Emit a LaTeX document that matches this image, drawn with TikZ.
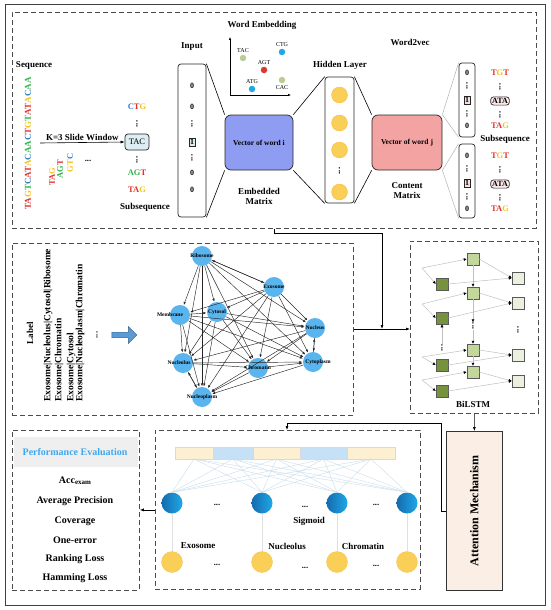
\documentclass[tikz,border=0pt]{standalone}
\usepackage{fontspec}
\setmainfont{Liberation Serif}
\usepackage{xcolor}
\definecolor{SeqRed}{HTML}{E0302B}
\definecolor{SeqGreen}{HTML}{2FB24A}
\definecolor{SeqGold}{HTML}{F2C318}
\definecolor{SeqBlue}{HTML}{2F7FC8}
\definecolor{TacFill}{HTML}{DCEEF4}
\definecolor{EmbFill}{HTML}{8E9CF2}
\definecolor{CtxFill}{HTML}{F4A3A3}
\definecolor{HidGold}{HTML}{F9CF57}
\definecolor{PtGreen}{HTML}{B9CC92}
\definecolor{PtBlue}{HTML}{1EA8E8}
\definecolor{PtRed}{HTML}{D83A32}
\definecolor{NodeBlue}{HTML}{5AB4EE}
\definecolor{ArrBlue}{HTML}{5B9BD5}
\definecolor{LstmDark}{HTML}{76923C}
\definecolor{LstmMid}{HTML}{C3D69B}
\definecolor{LstmLight}{HTML}{EBF1DE}
\definecolor{BarCream}{HTML}{FCEFD2}
\definecolor{BarBlue}{HTML}{C6E1F5}
\definecolor{SigBlue}{HTML}{1C86D8}
\definecolor{FanBlue}{HTML}{C9DDEB}
\definecolor{AttFill}{HTML}{FBEEE5}
\definecolor{HeadGray}{HTML}{EFEFEF}
\definecolor{PerfBlue}{HTML}{3DA8F0}
\usepackage{tikz}
\usetikzlibrary{positioning,calc,arrows.meta,shapes.arrows}
\tikzset{
  panel/.style={draw=black!70,line width=0.8pt,dash pattern=on 5pt off 3pt,inner sep=0pt},
  ttl/.style={font=\bfseries\fontsize{9}{10}\selectfont,inner sep=1pt},
  num/.style={font=\bfseries\fontsize{8}{9}\selectfont,inner sep=0pt},
  vd/.style={rotate=90,inner sep=0pt,font=\bfseries\fontsize{9}{9}\selectfont},
  word/.style={font=\bfseries\fontsize{8.5}{9}\selectfont,inner sep=1pt},
  vec/.style={draw=black!85,rounded corners=3pt,line width=0.7pt},
  mat/.style={vec,rounded corners=6pt,font=\bfseries\fontsize{7.5}{9}\selectfont},
  hot/.style={draw=black!85,inner sep=1.2pt,font=\bfseries\fontsize{8}{9}\selectfont},
  link/.style={draw=black,line width=0.6pt},
  glink/.style={draw=black!30,line width=0.5pt},
  flow/.style={-{Latex[length=4pt,width=3pt]},draw=black,line width=0.6pt},
  hcirc/.style={circle,fill=HidGold,draw=HidGold!70!orange,line width=0.3pt,minimum size=16pt,inner sep=0pt},
  edot/.style={circle,minimum size=6.5pt,inner sep=0pt},
  elbl/.style={font=\fontsize{6}{7}\selectfont,inner sep=0pt},
  gnode/.style={circle,fill=NodeBlue,minimum size=20pt,inner sep=0pt},
  glbl/.style={font=\bfseries\fontsize{5.5}{6}\selectfont,inner sep=0pt},
  gedge/.style={-{Latex[length=3pt,width=2.4pt]},line width=0.45pt,draw=black!85,shorten >=0.5pt},
  cell/.style={draw=black!65,minimum size=12pt,inner sep=0pt,line width=0.5pt},
  lstm/.style={-{Latex[length=3pt,width=3pt,color=black]},draw=black!25,line width=0.5pt},
  sigc/.style={circle,minimum size=21pt,inner sep=0pt,left color=SigBlue!80!black,right color=PtBlue},
  outc/.style={circle,minimum size=21pt,inner sep=0pt,fill=HidGold,draw=HidGold!80!orange,line width=0.3pt},
  fan/.style={draw=FanBlue,line width=0.4pt},
  vline/.style={draw=black!12,line width=0.4pt},
  metric/.style={font=\bfseries\fontsize{10}{11}\selectfont,inner sep=1pt},
}
\newcommand{\ntR}[1]{\textcolor{SeqRed}{#1}}
\newcommand{\ntG}[1]{\textcolor{SeqGreen}{#1}}
\newcommand{\ntY}[1]{\textcolor{SeqGold}{#1}}
\newcommand{\ntB}[1]{\textcolor{SeqBlue}{#1}}

\begin{document}
\begin{tikzpicture}[x=1pt,y=-1pt]
\useasboundingbox (0,0) rectangle (550,610);
\draw[black!75,line width=0.9pt] (5,4) rectangle (545,605);

% panels
\node[panel,minimum width=524pt,minimum height=216pt,anchor=north west] (top) at (12,12) {};
\node[panel,minimum width=341pt,minimum height=172pt,anchor=north west] (mid) at (12,243) {};
\node[panel,minimum width=128pt,minimum height=172pt,anchor=north west] (lstm) at (410,241) {};
\node[panel,minimum width=127pt,minimum height=160pt,anchor=north west] (perf) at (12,430) {};
\node[panel,minimum width=265pt,minimum height=159pt,anchor=north west] (sig) at (155,430) {};
\node[draw=black!80,fill=AttFill,line width=0.7pt,minimum width=56pt,minimum height=159pt,anchor=north west] (att) at (446,431) {};
\node[rotate=90,font=\bfseries\fontsize{12}{13}\selectfont] at (att) {Attention Mechanism};

% sequence and slide window
\node[ttl] (seqt) at (34,65) {Sequence};
\node[rotate=90,font=\bfseries\fontsize{9}{10}\selectfont,inner sep=0pt] (seq) at (28,143.5)
  {\ntR{TA}\ntY{G}\ntG{T}\ntB{C}\ntR{AT}\ntY{A}\ntB{C}\ntG{AA}\ntB{C}\ntR{T}\ntY{G}\ntG{T}\ntR{AT}\ntY{A}\ntB{C}\ntG{AA}};
\node[rotate=90,word] (w1) at (52,177) {\ntR{TA}\ntY{G}};
\node[rotate=90,word] (w2) at (60,169) {\ntG{AG}\ntR{T}};
\node[rotate=90,word] (w3) at (70,163) {\ntY{GT}\ntB{C}};
\node[word] at (88,161) {...};
\node[draw=black!85,fill=TacFill,rounded corners=3pt,line width=0.7pt,minimum width=24pt,minimum height=16pt,
  inner sep=1pt,font=\fontsize{8.5}{9}\selectfont] (tac) at (137,142) {TAC};
\coordinate (win) at (40,143);
\draw[flow] (win) -- node[ttl,above=1pt] {K=3 Slide Window} (tac.west);
\node[word] (ctg) at (137,107) {\ntB{C}\ntR{T}\ntY{G}};
\node[vd] at (137,124) {...};
\node[vd] at (137,160) {...};
\node[word] (agt) at (137,173) {\ntG{AG}\ntR{T}};
\node[word] (tag) at (137,190) {\ntR{TA}\ntY{G}};
\node[ttl] at (145,207) {Subsequence};

% input one-hot
\node[vec,minimum width=28pt,minimum height=153pt] (inp) at (192,140.5) {};
\node[ttl] at (192,47) {Input};
\foreach \y in {86,107,173,190}
  \node[num] at (192,\y) {0};
\foreach \y in {124,158}
  \node[vd] at (192,\y) {...};
\node[hot,fill=TacFill] at (192,142) {1};

% word embedding
\node[ttl] at (262,25) {Word Embedding};
\coordinate (org) at (230,95);
\draw[-{Latex[length=3pt,width=2.5pt]},line width=0.5pt] (org) -- (230,37);
\draw[-{Latex[length=3pt,width=2.5pt]},line width=0.5pt] (org) -- (291,95);
\node[edot,fill=PtGreen] (pTAC) at (243,58) {};
\node[edot,fill=PtBlue] (pCTG) at (282,52) {};
\node[edot,fill=PtRed] (pAGT) at (264,70) {};
\node[edot,fill=PtBlue] (pATG) at (252,89) {};
\node[edot,fill=PtGreen] (pCAC) at (282,80) {};
\node[elbl,above=1.5pt of pTAC] {TAC};
\node[elbl,above=1.5pt of pCTG] {CTG};
\node[elbl,above=1.5pt of pAGT] {AGT};
\node[elbl,above=1.5pt of pATG] {ATG};
\node[elbl,below=2pt of pCAC] {CAC};

% embedded matrix and hidden layer
\node[mat,fill=EmbFill,minimum width=68pt,minimum height=55pt] (emb) at (259,142.5) {Vector of word i};
\node[ttl,align=center] at (259,196) {Embedded\\Matrix};
\node[vec,minimum width=29pt,minimum height=126pt] (hid) at (339.5,140) {};
\node[ttl] at (340,65) {Hidden Layer};
\foreach \y in {95,123,150,192}
  \node[hcirc] at (339.5,\y) {};
\node[vd] at (339.5,171) {...};
\draw[link] (inp.north east) -- (emb.north west);
\draw[link] (inp.south east) -- (emb.south west);
\draw[link] (emb.north east) -- (hid.north west);
\draw[link] (emb.south east) -- (hid.south west);

% content matrix and output
\node[ttl] at (410,42) {Word2vec};
\node[mat,fill=CtxFill,minimum width=70pt,minimum height=55pt] (ctx) at (407,142.5) {Vector of word j};
\node[ttl,align=center] at (407,191) {Content\\Matrix};
\draw[link] (hid.north east) -- (ctx.north west);
\draw[link] (hid.south east) -- (ctx.south west);
\node[vec,minimum width=16pt,minimum height=74pt] (v1) at (467,100) {};
\node[vec,minimum width=16pt,minimum height=74pt] (v2) at (467,181) {};
\draw[glink] (ctx.north east) -- (v1.north west);
\draw[glink] (ctx.north east) -- (v1.south west);
\draw[glink] (ctx.south east) -- (v2.north west);
\draw[glink] (ctx.south east) -- (v2.south west);
\foreach \dy in {0,83} {
  \node[num] at (467,{73+\dy}) {0};
  \node[vd] at (467,{86+\dy}) {...};
  \node[hot,fill=CtxFill!35] at (467,{100+\dy}) {1};
  \node[vd] at (467,{114+\dy}) {...};
  \node[num] at (467,{126+\dy}) {0};
  \node[word] at (500,{73+\dy}) {\ntR{T}\ntY{G}\ntR{T}};
  \node[vd] at (500,{87+\dy}) {...};
  \node[draw=black!85,fill=CtxFill!25,rounded corners=3pt,line width=0.7pt,inner sep=1.5pt,
    font=\bfseries\fontsize{8}{9}\selectfont] at (500,{101+\dy}) {ATA};
  \node[vd] at (500,{115+\dy}) {...};
  \node[word] at (500,{126+\dy}) {\ntR{TA}\ntY{G}};
}
\node[ttl] at (505,139) {Subsequence};

% labels
\node[ttl,rotate=90] at (30,333) {Label};
\foreach \x/\t in {48/{Exosome|Nucleolus|Cytosol|Ribosome},59/{Exosome|Chromatin},
                   71/{Exosome|Cytosol},80/{Exosome|Nucleoplasm|Chromatin}}
  \node[rotate=90,anchor=west,inner sep=0pt,font=\bfseries\fontsize{9.5}{10}\selectfont] at (\x,402) {\t};
\node[rotate=90,word] at (97,335) {...};
\node[single arrow,fill=ArrBlue,draw=ArrBlue!60!black,line width=0.4pt,minimum height=25pt,
  minimum width=17pt,single arrow head extend=2.5pt,inner sep=1pt] (big) at (123,335) {};

% label graph
\foreach \n/\x/\y in {rib/202/256,exo/274/287,mem/180/315,cyt/217/312,nuc/315/328,
                      nul/183/363,chr/258/368,cpl/313/362,npl/202/397}
  \node[gnode] (\n) at (\x,\y) {};
\foreach \a/\b in {rib/exo,rib/mem,rib/cyt,rib/nuc,rib/nul,rib/chr,rib/cpl,rib/npl,
                   exo/mem,exo/cyt,exo/nuc,exo/nul,exo/chr,exo/cpl,exo/npl,
                   mem/cyt,mem/nuc,mem/nul,mem/chr,mem/cpl,mem/npl,
                   cyt/nuc,cyt/nul,cyt/chr,cyt/cpl,cyt/npl,
                   nuc/nul,nuc/chr,nuc/cpl,nuc/npl,
                   nul/chr,nul/cpl,nul/npl,chr/cpl,chr/npl,cpl/npl}
  \draw[gedge] (\a) -- (\b);
\draw[gedge] (exo) -- (rib);
\draw[gedge] (npl) -- (nul);
\draw[gedge] (cpl) -- (nuc);
\node[glbl] at (rib) {Ribosome};
\node[glbl] at (exo) {Exosome};
\node[glbl] at ($(mem)+(-10,0)$) {Membrane};
\node[glbl] at (cyt) {Cytosol};
\node[glbl] at (nuc) {Nucleus};
\node[glbl] at ($(nul)+(-4,0)$) {Nucleolus};
\node[glbl] at (chr) {Chromatin};
\node[glbl] at ($(cpl)+(5,0)$) {Cytoplasm};
\node[glbl] at (npl) {Nucleoplasm};

% BiLSTM
\foreach \i/\ym/\yl/\yr/\yp in {1/259/284/278/268,2/293/318/303/304,3/350/365/355/357,4/372/391/381/380} {
  \node[cell,fill=LstmMid] (m\i) at (473,\ym) {};
  \node[cell,fill=LstmDark] (l\i) at (442,\yl) {};
  \node[cell,fill=LstmLight] (r\i) at (518,\yr) {};
  \coordinate (p\i) at (422,\yp);
  \draw[lstm] (p\i) -- (m\i.west);
  \draw[lstm] (p\i) -- (l\i.west);
  \draw[lstm] (m\i.east) -- (r\i.west);
  \draw[lstm] (l\i.east) -- (r\i.west);
}
\node[vd] (md) at (473,326) {...};
\node[vd] (ld) at (442,348) {...};
\node[vd] (rd) at (518,330) {...};
\draw[lstm] (m1) -- (m2);
\draw[lstm] (m2) -- (md);
\draw[lstm] (md) -- (m3);
\draw[lstm] (m3) -- (m4);
\draw[lstm] (ld) -- (l2);
\node[ttl] at (473,404) {BiLSTM};

% sigmoid output layer
\foreach \xa/\xb/\c [count=\k] in {175/213/BarCream,213/253/BarBlue,253/300/BarCream,300/347/BarBlue,347/395/BarCream} {
  \draw[draw=black!15,fill=\c,line width=0.4pt] (\xa,447) rectangle (\xb,459);
  \coordinate (b\k) at ({(\xa+\xb)/2},459);
}
\foreach \x [count=\j] in {172,262,337,407} {
  \node[sigc] (s\j) at (\x,503) {};
  \node[outc] (o\j) at (\x,562) {};
  \draw[vline] (s\j) -- (o\j);
}
\foreach \k in {1,...,5}
  \foreach \j in {1,...,4}
    \draw[fan] (b\k) -- (s\j.north);
\foreach \x/\y in {217/505,305/507,376/505,217/565,305/568,376/566}
  \node[word] at (\x,\y) {...};
\node[ttl] at (309,521) {Sigmoid};
\node[ttl] at (198,546) {Exosome};
\node[ttl] at (287,546) {Nucleolus};
\node[ttl] at (363,546) {Chromatin};

% performance evaluation
\fill[HeadGray] (13.5,437) rectangle (137.5,467);
\node[metric,text=PerfBlue] at (75,452) {Performance Evaluation};
\node[metric] at (75,481) {Acc\raisebox{-1pt}{\fontsize{7}{8}\selectfont exam}};
\node[metric] at (75,501) {Average Precision};
\node[metric] at (75,521) {Coverage};
\node[metric] at (75,540) {One-error};
\node[metric] at (75,559) {Ranking Loss};
\node[metric] at (75,578) {Hamming Loss};

% connectors between panels
\coordinate (jn) at (382,329);
\draw[flow] (top.south) -- ++(0,4) -| (jn);
\draw[flow] (mid.east|-jn) -- (lstm.west|-jn);
\draw[flow] (lstm.south) -- (att.north);
\coordinate (ab) at (287,423);
\draw[flow] (att.west) -- ++(-5,0) |- (ab) -- (ab|-sig.north);
\draw[flow] (sig.west) -- (perf.east|-sig.west);
\end{tikzpicture}
\end{document}
